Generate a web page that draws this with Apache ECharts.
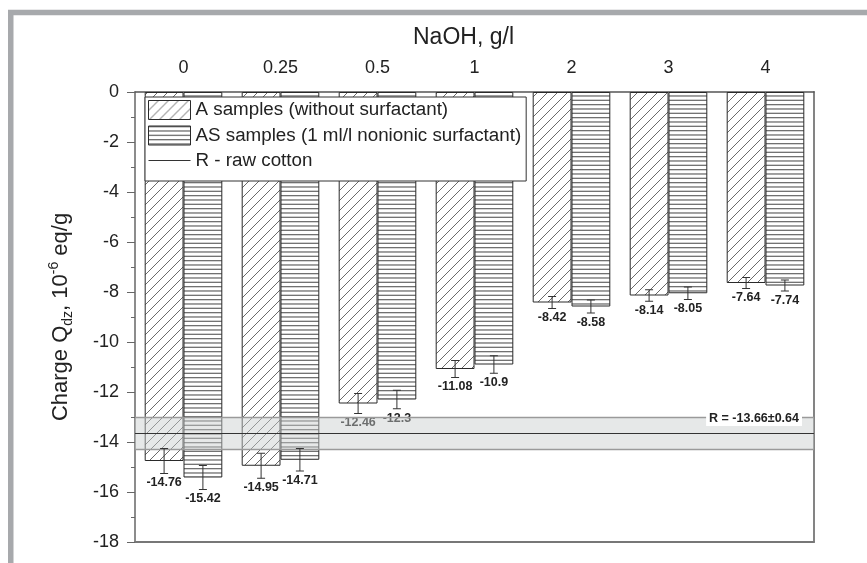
<!DOCTYPE html>
<html>
<head>
<meta charset="utf-8">
<script src="https://cdn.jsdelivr.net/npm/echarts@6/dist/echarts.min.js"></script>
<style>html,body{margin:0;padding:0;background:#fff}#c{width:867px;height:563px}</style>
</head>
<body>
<div id="c"></div>
<script>
// ---- data ----
const categories = ['0', '0.25', '0.5', '1', '2', '3', '4'];
const aValues  = [-14.76, -14.95, -12.46, -11.08, -8.42, -8.14, -7.64];
const asValues = [-15.42, -14.71, -12.3, -10.9, -8.58, -8.05, -7.74];
const aErr     = [0.50, 0.50, 0.40, 0.34, 0.24, 0.23, 0.22];
const asErr    = [0.48, 0.45, 0.37, 0.35, 0.26, 0.25, 0.22];
const rMean = -13.66;
const rErr = 0.64;
const yTicksMin = -18, yTicksMax = 0, yTickStep = 2;
const nameA = 'A samples (without surfactant)';
const nameAS = 'AS samples (1 ml/l nonionic surfactant)';
const nameR = 'R - raw cotton';

// ---- patterns ----
function diagPattern() {
  const c = document.createElement('canvas'); c.width = 10; c.height = 10;
  const g = c.getContext('2d');
  g.fillStyle = '#fff'; g.fillRect(0, 0, 10, 10);
  g.strokeStyle = '#444'; g.lineWidth = 0.8;
  g.beginPath();
  g.moveTo(-1, 11); g.lineTo(11, -1);
  g.moveTo(-1, 1); g.lineTo(1, -1);
  g.moveTo(9, 11); g.lineTo(11, 9);
  g.stroke();
  return c;
}
function horizPattern() {
  const c = document.createElement('canvas'); c.width = 8; c.height = 13;
  const g = c.getContext('2d');
  g.fillStyle = '#fff'; g.fillRect(0, 0, 8, 13);
  g.fillStyle = '#707070';
  [0, 4.33, 8.67].forEach(y => g.fillRect(0, y, 8, 1.3));
  return c;
}
const patA = { image: diagPattern(), repeat: 'repeat' };
const patAS = { image: horizPattern(), repeat: 'repeat' };

const FONT = 'Liberation Sans, Arial, sans-serif';
const errData = [];
const lblData = [];
categories.forEach((c, i) => {
  errData.push([i, aValues[i], aErr[i], -1]);
  errData.push([i, asValues[i], asErr[i], 1]);
  lblData.push([i, aValues[i], aErr[i], -1]);
  lblData.push([i, asValues[i], asErr[i], 1]);
});

const chart = echarts.init(document.getElementById('c'), null, { renderer: 'canvas' });
const axisColor = '#666';
chart.setOption({
  animation: false,
  backgroundColor: '#fff',
  textStyle: { fontFamily: FONT },
  graphic: [{
    type: 'rect', silent: true, z: -1,
    shape: { x: 10.75, y: 12.5, width: 1000, height: 1000 },
    style: { fill: 'none', stroke: '#a7a9ac', lineWidth: 5.5 }
  }],
  grid: { left: 135, right: 53, top: 92, bottom: 21, containLabel: false },
  legend: {
    orient: 'vertical', left: 145, top: 97,
    data: [
      { name: nameA, icon: 'rect' },
      { name: nameAS, icon: 'rect' },
      { name: nameR, icon: 'path://M0,0L42,0L42,1L0,1Z' }
    ],
    itemWidth: 42, itemHeight: 19, itemGap: 5.5,
    padding: [3, 5, 11, 3],
    backgroundColor: '#fff', borderColor: '#333', borderWidth: 1,
    itemStyle: { borderWidth: 1 },
    textStyle: { fontSize: 18.8, color: '#222', fontFamily: FONT },
    selectedMode: false
  },
  xAxis: [{
    type: 'category', data: categories, position: 'top',
    name: 'NaOH, g/l', nameLocation: 'middle', nameGap: 43,
    nameTextStyle: { fontSize: 23, color: '#222', fontFamily: FONT, padding: [0, 22, 0, 0] },
    axisLine: { lineStyle: { color: '#555', width: 1.5 } },
    axisTick: { alignWithLabel: true, length: 8, lineStyle: { color: '#555' } },
    axisLabel: { fontSize: 18, color: '#222', margin: 15, fontFamily: FONT },
    splitLine: { show: false }
  }, {
    type: 'category', data: categories, position: 'bottom', gridIndex: 0,
    axisLine: { onZero: false, lineStyle: { color: '#777', width: 1.8 } },
    axisTick: { show: false }, axisLabel: { show: false }, splitLine: { show: false }
  }],
  yAxis: [{
    type: 'value', min: yTicksMin, max: yTicksMax, interval: yTickStep,
    name: 'Charge Q{sub|dz}, 10{sup|-6} eq/g', nameLocation: 'middle', nameGap: 60,
    nameTextStyle: {
      fontSize: 22, color: '#222', fontFamily: FONT, lineHeight: 28,
      rich: {
        sub: { fontSize: 14, color: '#222', verticalAlign: 'bottom', lineHeight: 28, fontFamily: FONT },
        sup: { fontSize: 14, color: '#222', verticalAlign: 'top', lineHeight: 28, fontFamily: FONT }
      }
    },
    axisLine: { show: true, lineStyle: { color: axisColor, width: 1.5 } },
    axisTick: { show: true, length: 8, lineStyle: { color: axisColor } },
    minorTick: { show: true, splitNumber: 2, length: 4, lineStyle: { color: axisColor } },
    axisLabel: { fontSize: 18, color: '#222', margin: 16, fontFamily: FONT },
    splitLine: { show: false }
  }, {
    type: 'value', min: yTicksMin, max: yTicksMax, interval: yTickStep, position: 'right',
    axisLine: { show: true, onZero: false, lineStyle: { color: '#777', width: 1.8 } },
    axisTick: { show: false }, axisLabel: { show: false }, splitLine: { show: false }
  }],
  series: [{
    name: nameA, type: 'bar', data: aValues,
    barGap: '0%', barCategoryGap: '20%',
    itemStyle: { color: patA, borderColor: '#2a2a2a', borderWidth: 1 },
    z: 2
  }, {
    name: nameAS, type: 'bar', data: asValues,
    barGap: '0%', barCategoryGap: '20%',
    itemStyle: { color: patAS, borderColor: '#2a2a2a', borderWidth: 1 },
    z: 2
  }, {
    name: 'labels', type: 'custom', data: lblData, z: 2, silent: true,
    encode: { x: 0, y: 1 },
    renderItem: function (params, api) {
      const i = api.value(0), v = api.value(1), e = api.value(2), side = api.value(3);
      const w = api.size([1, 0])[0];
      const c = api.coord([i, v - e]);
      const x = c[0] + side * w * 0.2;
      return {
        type: 'text',
        style: {
          text: String(v), x: x, y: c[1] + 3,
          align: 'center', verticalAlign: 'top',
          font: 'bold 12.5px ' + FONT, fill: '#222'
        }
      };
    }
  }, {
    name: nameR, type: 'line', data: [], symbol: 'none', showSymbol: false,
    lineStyle: { color: '#333', width: 1 }, itemStyle: { color: '#333' }
  }, {
    name: 'band', type: 'custom', data: [[rMean, rErr]], z: 3, silent: true,
    renderItem: function (params, api) {
      const m = api.value(0), e = api.value(1);
      const cs = params.coordSys;
      const yTop = api.coord([0, m + e])[1];
      const yMid = api.coord([0, m])[1];
      const yBot = api.coord([0, m - e])[1];
      const x0 = cs.x, x1 = cs.x + cs.width;
      return {
        type: 'group',
        children: [
          { type: 'rect', shape: { x: x0, y: yTop, width: cs.width, height: yBot - yTop },
            style: { fill: 'rgba(200,205,205,0.45)' } },
          { type: 'line', shape: { x1: x0, y1: yTop, x2: x1, y2: yTop }, style: { stroke: '#9a9a9a', lineWidth: 1.3 } },
          { type: 'line', shape: { x1: x0, y1: yBot, x2: x1, y2: yBot }, style: { stroke: '#9a9a9a', lineWidth: 1.3 } },
          { type: 'line', shape: { x1: x0, y1: yMid, x2: x1, y2: yMid }, style: { stroke: '#333', lineWidth: 1.2 } },
          { type: 'text', z2: 10, style: {
              text: 'R = ' + m.toFixed(2) + '\u00b1' + e.toFixed(2),
              x: x1 - 12, y: yTop + 1, align: 'right', verticalAlign: 'middle',
              font: 'bold 12.5px ' + FONT, fill: '#222',
              backgroundColor: '#fff', padding: [1, 3, 1, 3]
          } }
        ]
      };
    }
  }, {
    name: 'errors', type: 'custom', data: errData, z: 4, silent: true,
    encode: { x: 0, y: 1 },
    renderItem: function (params, api) {
      const i = api.value(0), v = api.value(1), e = api.value(2), side = api.value(3);
      const w = api.size([1, 0])[0];
      const top = api.coord([i, v + e]);
      const bot = api.coord([i, v - e]);
      const x = top[0] + side * w * 0.2;
      const cap = 4;
      const st = { stroke: '#333', lineWidth: 1 };
      return {
        type: 'group',
        children: [
          { type: 'line', shape: { x1: x, y1: top[1], x2: x, y2: bot[1] }, style: st },
          { type: 'line', shape: { x1: x - cap, y1: top[1], x2: x + cap, y2: top[1] }, style: st },
          { type: 'line', shape: { x1: x - cap, y1: bot[1], x2: x + cap, y2: bot[1] }, style: st }
        ]
      };
    }
  }]
});
</script>
</body>
</html>
